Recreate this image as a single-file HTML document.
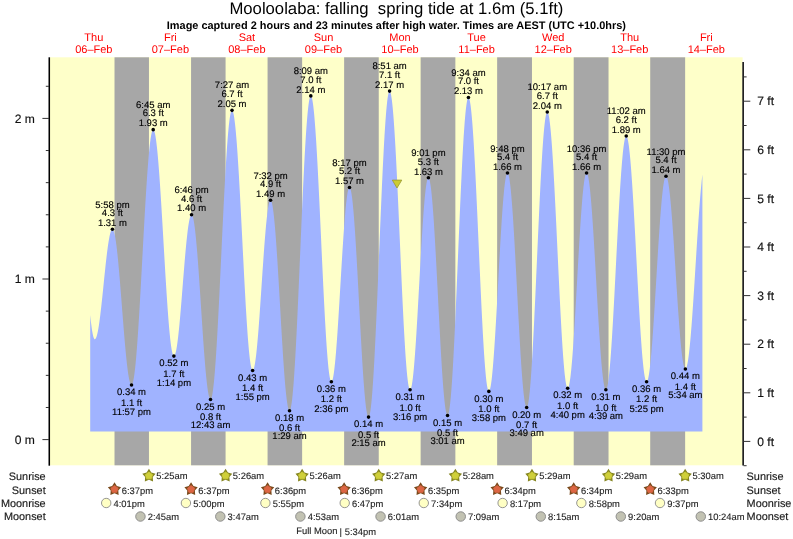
<!DOCTYPE html><html><head><meta charset="utf-8"><title>Mooloolaba tide</title>
<style>html,body{margin:0;padding:0;background:#fff;}svg{display:block;will-change:transform;font-family:"Liberation Sans",sans-serif;}text{white-space:pre;text-rendering:geometricPrecision;}</style></head><body>
<svg width="793" height="539" viewBox="0 0 793 539">
<rect width="793" height="539" fill="#fff"/>
<rect x="50" y="57.3" width="692.6" height="408.0" fill="#feffc9"/>
<rect x="114.51" y="57.3" width="34.45" height="408.0" fill="#a7a7a7"/>
<rect x="191.07" y="57.3" width="34.51" height="408.0" fill="#a7a7a7"/>
<rect x="267.57" y="57.3" width="34.56" height="408.0" fill="#a7a7a7"/>
<rect x="344.13" y="57.3" width="34.61" height="408.0" fill="#a7a7a7"/>
<rect x="420.64" y="57.3" width="34.72" height="408.0" fill="#a7a7a7"/>
<rect x="497.15" y="57.3" width="34.82" height="408.0" fill="#a7a7a7"/>
<rect x="573.71" y="57.3" width="34.82" height="408.0" fill="#a7a7a7"/>
<rect x="650.21" y="57.3" width="34.93" height="408.0" fill="#a7a7a7"/>
<path d="M90.20,431.5L90.20,314.93L90.64,319.17L91.07,323.05L91.51,326.54L91.95,329.64L92.39,332.32L92.82,334.57L93.26,336.39L93.70,337.77L94.14,338.69L94.57,339.16L95.01,339.19L95.45,338.86L95.88,338.21L96.32,337.22L96.76,335.92L97.20,334.30L97.63,332.38L98.07,330.16L98.51,327.67L98.95,324.91L99.38,321.90L99.82,318.67L100.26,315.23L100.69,311.60L101.13,307.80L101.57,303.86L102.01,299.80L102.44,295.65L102.88,291.43L103.32,287.16L103.76,282.87L104.19,278.60L104.63,274.36L105.07,270.17L105.50,266.08L105.94,262.09L106.38,258.24L106.82,254.54L107.25,251.03L107.69,247.71L108.13,244.62L108.57,241.77L109.00,239.17L109.44,236.85L109.88,234.82L110.32,233.09L110.75,231.66L111.19,230.56L111.63,229.78L112.06,229.33L112.50,229.22L112.94,229.48L113.38,230.15L113.81,231.21L114.25,232.67L114.69,234.51L115.13,236.73L115.56,239.32L116.00,242.25L116.44,245.52L116.87,249.11L117.31,253.00L117.75,257.17L118.19,261.60L118.62,266.26L119.06,271.14L119.50,276.20L119.94,281.42L120.37,286.77L120.81,292.23L121.25,297.77L121.68,303.36L122.12,308.96L122.56,314.56L123.00,320.11L123.43,325.60L123.87,330.99L124.31,336.26L124.75,341.38L125.18,346.32L125.62,351.06L126.06,355.57L126.49,359.83L126.93,363.82L127.37,367.51L127.81,370.89L128.24,373.94L128.68,376.64L129.12,378.99L129.56,380.96L129.99,382.55L130.43,383.75L130.87,384.55L131.30,384.95L131.74,384.93L132.18,384.42L132.62,383.39L133.05,381.86L133.49,379.83L133.93,377.31L134.37,374.31L134.80,370.84L135.24,366.91L135.68,362.55L136.12,357.76L136.55,352.57L136.99,347.00L137.43,341.06L137.86,334.80L138.30,328.22L138.74,321.36L139.18,314.24L139.61,306.89L140.05,299.34L140.49,291.63L140.93,283.78L141.36,275.82L141.80,267.79L142.24,259.71L142.67,251.63L143.11,243.57L143.55,235.56L143.99,227.64L144.42,219.84L144.86,212.19L145.30,204.73L145.74,197.47L146.17,190.45L146.61,183.70L147.05,177.25L147.48,171.11L147.92,165.33L148.36,159.91L148.80,154.88L149.23,150.26L149.67,146.07L150.11,142.33L150.55,139.05L150.98,136.24L151.42,133.92L151.86,132.09L152.29,130.77L152.73,129.95L153.17,129.64L153.61,129.84L154.04,130.54L154.48,131.74L154.92,133.42L155.36,135.59L155.79,138.23L156.23,141.33L156.67,144.88L157.10,148.86L157.54,153.26L157.98,158.05L158.42,163.21L158.85,168.73L159.29,174.57L159.73,180.72L160.17,187.14L160.60,193.80L161.04,200.68L161.48,207.75L161.91,214.97L162.35,222.32L162.79,229.75L163.23,237.25L163.66,244.77L164.10,252.28L164.54,259.75L164.98,267.14L165.41,274.43L165.85,281.57L166.29,288.55L166.72,295.33L167.16,301.87L167.60,308.15L168.04,314.15L168.47,319.83L168.91,325.17L169.35,330.15L169.79,334.75L170.22,338.94L170.66,342.70L171.10,346.03L171.54,348.90L171.97,351.30L172.41,353.22L172.85,354.66L173.28,355.60L173.72,356.05L174.16,356.01L174.60,355.54L175.03,354.64L175.47,353.32L175.91,351.60L176.35,349.47L176.78,346.96L177.22,344.07L177.66,340.82L178.09,337.25L178.53,333.35L178.97,329.17L179.41,324.73L179.84,320.04L180.28,315.15L180.72,310.07L181.16,304.85L181.59,299.51L182.03,294.08L182.47,288.60L182.90,283.10L183.34,277.62L183.78,272.18L184.22,266.83L184.65,261.58L185.09,256.48L185.53,251.56L185.97,246.84L186.40,242.35L186.84,238.13L187.28,234.19L187.71,230.56L188.15,227.26L188.59,224.32L189.03,221.74L189.46,219.56L189.90,217.77L190.34,216.38L190.78,215.42L191.21,214.88L191.65,214.77L192.09,215.13L192.52,215.97L192.96,217.29L193.40,219.07L193.84,221.32L194.27,224.02L194.71,227.15L195.15,230.70L195.59,234.65L196.02,238.98L196.46,243.67L196.90,248.68L197.34,254.01L197.77,259.61L198.21,265.46L198.65,271.53L199.08,277.79L199.52,284.20L199.96,290.73L200.40,297.34L200.83,304.01L201.27,310.69L201.71,317.35L202.15,323.96L202.58,330.49L203.02,336.88L203.46,343.13L203.89,349.18L204.33,355.02L204.77,360.60L205.21,365.90L205.64,370.90L206.08,375.56L206.52,379.86L206.96,383.78L207.39,387.31L207.83,390.41L208.27,393.07L208.70,395.28L209.14,397.04L209.58,398.32L210.02,399.12L210.45,399.44L210.89,399.24L211.33,398.46L211.77,397.08L212.20,395.13L212.64,392.60L213.08,389.50L213.51,385.86L213.95,381.68L214.39,376.99L214.83,371.79L215.26,366.12L215.70,359.99L216.14,353.43L216.58,346.47L217.01,339.13L217.45,331.45L217.89,323.46L218.32,315.19L218.76,306.67L219.20,297.94L219.64,289.03L220.07,279.98L220.51,270.83L220.95,261.62L221.39,252.38L221.82,243.14L222.26,233.96L222.70,224.86L223.13,215.89L223.57,207.07L224.01,198.45L224.45,190.06L224.88,181.94L225.32,174.12L225.76,166.62L226.20,159.49L226.63,152.74L227.07,146.42L227.51,140.53L227.94,135.12L228.38,130.20L228.82,125.78L229.26,121.89L229.69,118.55L230.13,115.77L230.57,113.55L231.01,111.91L231.44,110.86L231.88,110.39L232.32,110.52L232.76,111.22L233.19,112.49L233.63,114.33L234.07,116.73L234.50,119.68L234.94,123.16L235.38,127.16L235.82,131.67L236.25,136.66L236.69,142.10L237.13,147.99L237.57,154.28L238.00,160.96L238.44,167.98L238.88,175.33L239.31,182.97L239.75,190.87L240.19,198.98L240.63,207.28L241.06,215.72L241.50,224.27L241.94,232.90L242.38,241.56L242.81,250.21L243.25,258.82L243.69,267.35L244.12,275.76L244.56,284.01L245.00,292.08L245.44,299.91L245.87,307.48L246.31,314.75L246.75,321.69L247.19,328.27L247.62,334.46L248.06,340.24L248.50,345.57L248.93,350.44L249.37,354.82L249.81,358.69L250.25,362.04L250.68,364.85L251.12,367.10L251.56,368.80L252.00,369.93L252.43,370.48L252.87,370.47L253.31,369.95L253.74,368.93L254.18,367.43L254.62,365.44L255.06,362.98L255.49,360.06L255.93,356.71L256.37,352.94L256.81,348.77L257.24,344.23L257.68,339.34L258.12,334.14L258.56,328.65L258.99,322.90L259.43,316.94L259.87,310.79L260.30,304.49L260.74,298.08L261.18,291.60L261.62,285.08L262.05,278.56L262.49,272.08L262.93,265.68L263.37,259.40L263.80,253.26L264.24,247.32L264.68,241.60L265.11,236.14L265.55,230.97L265.99,226.12L266.43,221.62L266.86,217.49L267.30,213.76L267.74,210.45L268.18,207.59L268.61,205.18L269.05,203.24L269.49,201.78L269.92,200.82L270.36,200.35L270.80,200.39L271.24,200.98L271.67,202.12L272.11,203.79L272.55,206.00L272.99,208.73L273.42,211.96L273.86,215.69L274.30,219.89L274.73,224.53L275.17,229.60L275.61,235.06L276.05,240.90L276.48,247.07L276.92,253.55L277.36,260.30L277.80,267.29L278.23,274.48L278.67,281.83L279.11,289.30L279.54,296.86L279.98,304.46L280.42,312.07L280.86,319.65L281.29,327.15L281.73,334.53L282.17,341.77L282.61,348.82L283.04,355.63L283.48,362.19L283.92,368.45L284.35,374.38L284.79,379.95L285.23,385.13L285.67,389.89L286.10,394.21L286.54,398.07L286.98,401.44L287.42,404.31L287.85,406.66L288.29,408.48L288.73,409.76L289.16,410.50L289.60,410.68L290.04,410.25L290.48,409.16L290.91,407.42L291.35,405.04L291.79,402.03L292.23,398.39L292.66,394.15L293.10,389.32L293.54,383.93L293.98,377.99L294.41,371.53L294.85,364.57L295.29,357.16L295.72,349.31L296.16,341.05L296.60,332.44L297.04,323.49L297.47,314.25L297.91,304.76L298.35,295.05L298.79,285.16L299.22,275.15L299.66,265.04L300.10,254.89L300.53,244.72L300.97,234.60L301.41,224.55L301.85,214.62L302.28,204.85L302.72,195.29L303.16,185.96L303.60,176.92L304.03,168.20L304.47,159.83L304.91,151.85L305.34,144.29L305.78,137.19L306.22,130.58L306.66,124.47L307.09,118.90L307.53,113.90L307.97,109.47L308.41,105.65L308.84,102.44L309.28,99.86L309.72,97.92L310.15,96.63L310.59,95.99L311.03,96.00L311.47,96.66L311.90,97.95L312.34,99.86L312.78,102.40L313.22,105.54L313.65,109.28L314.09,113.59L314.53,118.47L314.96,123.88L315.40,129.80L315.84,136.20L316.28,143.07L316.71,150.36L317.15,158.05L317.59,166.09L318.03,174.46L318.46,183.12L318.90,192.03L319.34,201.14L319.78,210.42L320.21,219.83L320.65,229.33L321.09,238.86L321.52,248.40L321.96,257.89L322.40,267.30L322.84,276.58L323.27,285.70L323.71,294.60L324.15,303.26L324.59,311.63L325.02,319.67L325.46,327.36L325.90,334.65L326.33,341.51L326.77,347.92L327.21,353.84L327.65,359.25L328.08,364.12L328.52,368.43L328.96,372.17L329.40,375.31L329.83,377.84L330.27,379.76L330.71,381.04L331.14,381.70L331.58,381.72L332.02,381.18L332.46,380.08L332.89,378.44L333.33,376.25L333.77,373.54L334.21,370.32L334.64,366.61L335.08,362.43L335.52,357.80L335.95,352.75L336.39,347.31L336.83,341.51L337.27,335.39L337.70,328.97L338.14,322.30L338.58,315.41L339.02,308.34L339.45,301.14L339.89,293.85L340.33,286.50L340.76,279.14L341.20,271.81L341.64,264.56L342.08,257.42L342.51,250.43L342.95,243.65L343.39,237.09L343.83,230.82L344.26,224.85L344.70,219.22L345.14,213.97L345.57,209.12L346.01,204.71L346.45,200.75L346.89,197.28L347.32,194.31L347.76,191.85L348.20,189.93L348.64,188.55L349.07,187.73L349.51,187.46L349.95,187.77L350.38,188.67L350.82,190.17L351.26,192.25L351.70,194.90L352.13,198.11L352.57,201.87L353.01,206.14L353.45,210.92L353.88,216.17L354.32,221.88L354.76,228.00L355.20,234.50L355.63,241.36L356.07,248.54L356.51,256.00L356.94,263.70L357.38,271.60L357.82,279.66L358.26,287.84L358.69,296.09L359.13,304.37L359.57,312.65L360.01,320.87L360.44,328.99L360.88,336.97L361.32,344.78L361.75,352.36L362.19,359.68L362.63,366.70L363.07,373.39L363.50,379.71L363.94,385.62L364.38,391.10L364.82,396.12L365.25,400.65L365.69,404.67L366.13,408.15L366.56,411.08L367.00,413.45L367.44,415.23L367.88,416.43L368.31,417.04L368.75,417.03L369.19,416.35L369.63,414.97L370.06,412.91L370.50,410.18L370.94,406.77L371.37,402.72L371.81,398.04L372.25,392.75L372.69,386.86L373.12,380.41L373.56,373.42L374.00,365.93L374.44,357.95L374.87,349.54L375.31,340.72L375.75,331.53L376.18,322.01L376.62,312.21L377.06,302.15L377.50,291.89L377.93,281.47L378.37,270.94L378.81,260.33L379.25,249.70L379.68,239.08L380.12,228.53L380.56,218.09L381.00,207.80L381.43,197.70L381.87,187.85L382.31,178.28L382.74,169.03L383.18,160.15L383.62,151.66L384.06,143.61L384.49,136.03L384.93,128.96L385.37,122.41L385.81,116.43L386.24,111.03L386.68,106.24L387.12,102.08L387.55,98.57L387.99,95.72L388.43,93.54L388.87,92.05L389.30,91.25L389.74,91.14L390.18,91.70L390.62,92.94L391.05,94.84L391.49,97.39L391.93,100.59L392.36,104.42L392.80,108.86L393.24,113.90L393.68,119.50L394.11,125.65L394.55,132.32L394.99,139.47L395.43,147.07L395.86,155.10L396.30,163.51L396.74,172.27L397.17,181.34L397.61,190.67L398.05,200.23L398.49,209.96L398.92,219.84L399.36,229.80L399.80,239.82L400.24,249.84L400.67,259.81L401.11,269.70L401.55,279.46L401.98,289.04L402.42,298.40L402.86,307.50L403.30,316.30L403.73,324.76L404.17,332.84L404.61,340.50L405.05,347.71L405.48,354.44L405.92,360.66L406.36,366.33L406.79,371.44L407.23,375.96L407.67,379.87L408.11,383.15L408.54,385.79L408.98,387.77L409.42,389.09L409.86,389.74L410.29,389.73L410.73,389.12L411.17,387.91L411.61,386.13L412.04,383.77L412.48,380.85L412.92,377.38L413.35,373.39L413.79,368.90L414.23,363.93L414.67,358.52L415.10,352.68L415.54,346.46L415.98,339.88L416.42,332.99L416.85,325.83L417.29,318.43L417.73,310.84L418.16,303.09L418.60,295.24L419.04,287.32L419.48,279.39L419.91,271.47L420.35,263.63L420.79,255.90L421.23,248.33L421.66,240.95L422.10,233.82L422.54,226.97L422.97,220.43L423.41,214.25L423.85,208.46L424.29,203.10L424.72,198.18L425.16,193.75L425.60,189.82L426.04,186.42L426.47,183.56L426.91,181.27L427.35,179.55L427.78,178.42L428.22,177.87L428.66,177.93L429.10,178.59L429.53,179.86L429.97,181.74L430.41,184.20L430.85,187.24L431.28,190.85L431.72,195.00L432.16,199.68L432.59,204.86L433.03,210.50L433.47,216.60L433.91,223.10L434.34,229.98L434.78,237.21L435.22,244.74L435.66,252.54L436.09,260.57L436.53,268.78L436.97,277.14L437.40,285.60L437.84,294.11L438.28,302.64L438.72,311.13L439.15,319.56L439.59,327.86L440.03,336.00L440.47,343.95L440.90,351.64L441.34,359.06L441.78,366.15L442.21,372.89L442.65,379.23L443.09,385.15L443.53,390.61L443.96,395.59L444.40,400.06L444.84,403.99L445.28,407.38L445.71,410.19L446.15,412.42L446.59,414.05L447.03,415.08L447.46,415.50L447.90,415.28L448.34,414.38L448.77,412.79L449.21,410.53L449.65,407.61L450.09,404.03L450.52,399.81L450.96,394.98L451.40,389.54L451.84,383.54L452.27,376.98L452.71,369.90L453.15,362.33L453.58,354.31L454.02,345.86L454.46,337.03L454.90,327.84L455.33,318.35L455.77,308.60L456.21,298.61L456.65,288.45L457.08,278.15L457.52,267.75L457.96,257.31L458.39,246.86L458.83,236.45L459.27,226.14L459.71,215.95L460.14,205.93L460.58,196.14L461.02,186.61L461.46,177.38L461.89,168.49L462.33,159.98L462.77,151.89L463.20,144.25L463.64,137.09L464.08,130.46L464.52,124.36L464.95,118.84L465.39,113.91L465.83,109.60L466.27,105.92L466.70,102.90L467.14,100.54L467.58,98.85L468.01,97.84L468.45,97.52L468.89,97.88L469.33,98.89L469.76,100.57L470.20,102.90L470.64,105.87L471.08,109.47L471.51,113.67L471.95,118.47L472.39,123.84L472.83,129.76L473.26,136.19L473.70,143.12L474.14,150.50L474.57,158.31L475.01,166.51L475.45,175.06L475.89,183.93L476.32,193.07L476.76,202.44L477.20,212.00L477.64,221.71L478.07,231.53L478.51,241.40L478.95,251.28L479.38,261.14L479.82,270.92L480.26,280.58L480.70,290.07L481.13,299.36L481.57,308.40L482.01,317.15L482.45,325.58L482.88,333.63L483.32,341.29L483.76,348.50L484.19,355.24L484.63,361.48L485.07,367.20L485.51,372.35L485.94,376.93L486.38,380.91L486.82,384.27L487.26,387.00L487.69,389.08L488.13,390.51L488.57,391.28L489.00,391.38L489.44,390.88L489.88,389.79L490.32,388.11L490.75,385.85L491.19,383.03L491.63,379.66L492.07,375.75L492.50,371.34L492.94,366.44L493.38,361.09L493.81,355.30L494.25,349.12L494.69,342.57L495.13,335.69L495.56,328.52L496.00,321.10L496.44,313.47L496.88,305.67L497.31,297.74L497.75,289.72L498.19,281.66L498.62,273.61L499.06,265.60L499.50,257.69L499.94,249.91L500.37,242.30L500.81,234.91L501.25,227.78L501.69,220.94L502.12,214.44L502.56,208.31L503.00,202.58L503.44,197.29L503.87,192.45L504.31,188.11L504.75,184.28L505.18,180.98L505.62,178.23L506.06,176.05L506.50,174.45L506.93,173.44L507.37,173.02L507.81,173.19L508.25,173.97L508.68,175.34L509.12,177.29L509.56,179.83L509.99,182.93L510.43,186.58L510.87,190.77L511.31,195.46L511.74,200.63L512.18,206.27L512.62,212.34L513.06,218.80L513.49,225.63L513.93,232.79L514.37,240.25L514.80,247.96L515.24,255.89L515.68,263.99L516.12,272.23L516.55,280.56L516.99,288.94L517.43,297.33L517.87,305.68L518.30,313.95L518.74,322.10L519.18,330.09L519.61,337.87L520.05,345.41L520.49,352.67L520.93,359.61L521.36,366.19L521.80,372.38L522.24,378.15L522.68,383.47L523.11,388.32L523.55,392.66L523.99,396.48L524.42,399.75L524.86,402.47L525.30,404.60L525.74,406.16L526.17,407.12L526.61,407.48L527.05,407.22L527.49,406.30L527.92,404.73L528.36,402.53L528.80,399.69L529.23,396.22L529.67,392.16L530.11,387.50L530.55,382.28L530.98,376.52L531.42,370.24L531.86,363.47L532.30,356.23L532.73,348.58L533.17,340.52L533.61,332.11L534.04,323.38L534.48,314.37L534.92,305.11L535.36,295.65L535.79,286.03L536.23,276.30L536.67,266.49L537.11,256.66L537.54,246.83L537.98,237.07L538.42,227.40L538.86,217.88L539.29,208.54L539.73,199.43L540.17,190.59L540.60,182.05L541.04,173.86L541.48,166.05L541.92,158.65L542.35,151.71L542.79,145.24L543.23,139.28L543.67,133.85L544.10,128.98L544.54,124.69L544.98,121.00L545.41,117.92L545.85,115.48L546.29,113.67L546.73,112.51L547.16,112.00L547.60,112.14L548.04,112.91L548.48,114.30L548.91,116.31L549.35,118.93L549.79,122.15L550.22,125.95L550.66,130.31L551.10,135.22L551.54,140.65L551.97,146.58L552.41,152.98L552.85,159.82L553.29,167.07L553.72,174.70L554.16,182.68L554.60,190.96L555.03,199.51L555.47,208.28L555.91,217.25L556.35,226.37L556.78,235.60L557.22,244.89L557.66,254.21L558.10,263.51L558.53,272.74L558.97,281.87L559.41,290.86L559.84,299.67L560.28,308.24L560.72,316.56L561.16,324.57L561.59,332.24L562.03,339.54L562.47,346.43L562.91,352.88L563.34,358.87L563.78,364.36L564.22,369.33L564.65,373.76L565.09,377.62L565.53,380.91L565.97,383.60L566.40,385.68L566.84,387.14L567.28,387.99L567.72,388.20L568.15,387.83L568.59,386.89L569.03,385.39L569.47,383.34L569.90,380.75L570.34,377.64L570.78,374.01L571.21,369.89L571.65,365.30L572.09,360.26L572.53,354.80L572.96,348.96L573.40,342.75L573.84,336.22L574.28,329.39L574.71,322.31L575.15,315.01L575.59,307.52L576.02,299.90L576.46,292.17L576.90,284.38L577.34,276.57L577.77,268.78L578.21,261.06L578.65,253.44L579.09,245.96L579.52,238.66L579.96,231.59L580.40,224.77L580.83,218.25L581.27,212.05L581.71,206.22L582.15,200.78L582.58,195.75L583.02,191.18L583.46,187.08L583.90,183.46L584.33,180.36L584.77,177.79L585.21,175.76L585.64,174.28L586.08,173.36L586.52,173.01L586.96,173.21L587.39,173.97L587.83,175.27L588.27,177.10L588.71,179.47L589.14,182.35L589.58,185.73L590.02,189.59L590.45,193.93L590.89,198.70L591.33,203.89L591.77,209.48L592.20,215.43L592.64,221.71L593.08,228.30L593.52,235.16L593.95,242.25L594.39,249.54L594.83,256.99L595.26,264.56L595.70,272.22L596.14,279.92L596.58,287.64L597.01,295.32L597.45,302.93L597.89,310.43L598.33,317.79L598.76,324.96L599.20,331.91L599.64,338.60L600.08,345.01L600.51,351.09L600.95,356.82L601.39,362.17L601.82,367.11L602.26,371.61L602.70,375.66L603.14,379.23L603.57,382.30L604.01,384.87L604.45,386.91L604.89,388.41L605.32,389.38L605.76,389.80L606.20,389.66L606.63,388.94L607.07,387.65L607.51,385.80L607.95,383.38L608.38,380.42L608.82,376.92L609.26,372.91L609.70,368.39L610.13,363.39L610.57,357.94L611.01,352.06L611.44,345.76L611.88,339.10L612.32,332.08L612.76,324.75L613.19,317.14L613.63,309.29L614.07,301.22L614.51,292.98L614.94,284.60L615.38,276.12L615.82,267.59L616.25,259.03L616.69,250.49L617.13,242.01L617.57,233.62L618.00,225.36L618.44,217.28L618.88,209.40L619.32,201.77L619.75,194.42L620.19,187.37L620.63,180.68L621.06,174.35L621.50,168.43L621.94,162.94L622.38,157.90L622.81,153.34L623.25,149.28L623.69,145.74L624.13,142.73L624.56,140.27L625.00,138.37L625.44,137.03L625.87,136.26L626.31,136.07L626.75,136.45L627.19,137.38L627.62,138.87L628.06,140.90L628.50,143.47L628.94,146.57L629.37,150.18L629.81,154.28L630.25,158.85L630.69,163.89L631.12,169.35L631.56,175.22L632.00,181.48L632.43,188.08L632.87,195.01L633.31,202.23L633.75,209.71L634.18,217.41L634.62,225.30L635.06,233.34L635.50,241.50L635.93,249.74L636.37,258.02L636.81,266.30L637.24,274.55L637.68,282.73L638.12,290.80L638.56,298.73L638.99,306.47L639.43,314.00L639.87,321.28L640.31,328.28L640.74,334.95L641.18,341.29L641.62,347.25L642.05,352.80L642.49,357.93L642.93,362.61L643.37,366.82L643.80,370.53L644.24,373.74L644.68,376.43L645.12,378.58L645.55,380.19L645.99,381.24L646.43,381.74L646.86,381.69L647.30,381.12L647.74,380.04L648.18,378.45L648.61,376.37L649.05,373.79L649.49,370.74L649.93,367.24L650.36,363.29L650.80,358.91L651.24,354.14L651.67,348.99L652.11,343.49L652.55,337.67L652.99,331.56L653.42,325.18L653.86,318.57L654.30,311.76L654.74,304.78L655.17,297.68L655.61,290.48L656.05,283.23L656.49,275.96L656.92,268.70L657.36,261.49L657.80,254.37L658.23,247.37L658.67,240.53L659.11,233.89L659.55,227.47L659.98,221.31L660.42,215.44L660.86,209.88L661.30,204.67L661.73,199.84L662.17,195.40L662.61,191.38L663.04,187.80L663.48,184.67L663.92,182.02L664.36,179.86L664.79,178.19L665.23,177.02L665.67,176.37L666.11,176.23L666.54,176.58L666.98,177.42L667.42,178.74L667.85,180.53L668.29,182.78L668.73,185.48L669.17,188.63L669.60,192.20L670.04,196.17L670.48,200.52L670.92,205.24L671.35,210.30L671.79,215.67L672.23,221.33L672.66,227.25L673.10,233.40L673.54,239.74L673.98,246.25L674.41,252.89L674.85,259.63L675.29,266.43L675.73,273.27L676.16,280.10L676.60,286.90L677.04,293.62L677.47,300.23L677.91,306.71L678.35,313.02L678.79,319.12L679.22,324.99L679.66,330.59L680.10,335.90L680.54,340.89L680.97,345.54L681.41,349.82L681.85,353.71L682.28,357.19L682.72,360.25L683.16,362.87L683.60,365.03L684.03,366.72L684.47,367.94L684.91,368.68L685.35,368.94L685.78,368.71L686.22,368.03L686.66,366.88L687.10,365.27L687.53,363.21L687.97,360.70L688.41,357.77L688.84,354.42L689.28,350.66L689.72,346.52L690.16,342.02L690.59,337.16L691.03,331.99L691.47,326.50L691.91,320.75L692.34,314.74L692.78,308.50L693.22,302.07L693.65,295.47L694.09,288.73L694.53,281.88L694.97,274.96L695.40,267.99L695.84,261.00L696.28,254.03L696.72,247.11L697.15,240.26L697.59,233.52L698.03,226.93L698.46,220.50L698.90,214.27L699.34,208.26L699.78,202.50L700.21,197.03L700.65,191.85L701.09,187.00L701.53,182.50L701.96,178.37L702.40,174.62L702.40,431.5Z" fill="#a0b3ff"/>
<rect x="48.5" y="57.3" width="1.55" height="408.4" fill="#000"/>
<rect x="742.3" y="62" width="1.7" height="403.5" fill="#222"/>
<rect x="42.4" y="439.10" width="6.6" height="1" fill="#333"/>
<text x="34.8" y="443.80" font-size="12.1" text-anchor="end" fill="#111" stroke="#111" stroke-width="0.15">0 m</text>
<rect x="45.8" y="406.98" width="3.2" height="1" fill="#333"/>
<rect x="45.8" y="374.86" width="3.2" height="1" fill="#333"/>
<rect x="45.8" y="342.74" width="3.2" height="1" fill="#333"/>
<rect x="45.8" y="310.62" width="3.2" height="1" fill="#333"/>
<rect x="42.4" y="278.50" width="6.6" height="1" fill="#333"/>
<text x="34.8" y="283.20" font-size="12.1" text-anchor="end" fill="#111" stroke="#111" stroke-width="0.15">1 m</text>
<rect x="45.8" y="246.38" width="3.2" height="1" fill="#333"/>
<rect x="45.8" y="214.26" width="3.2" height="1" fill="#333"/>
<rect x="45.8" y="182.14" width="3.2" height="1" fill="#333"/>
<rect x="45.8" y="150.02" width="3.2" height="1" fill="#333"/>
<rect x="42.4" y="117.90" width="6.6" height="1" fill="#333"/>
<text x="34.8" y="122.60" font-size="12.1" text-anchor="end" fill="#111" stroke="#111" stroke-width="0.15">2 m</text>
<rect x="45.8" y="85.78" width="3.2" height="1" fill="#333"/>
<rect x="743.5" y="465.20" width="3.1" height="1" fill="#333"/>
<rect x="743.5" y="440.90" width="6.8" height="1" fill="#333"/>
<text x="757.2" y="445.60" font-size="12.1" fill="#111" stroke="#111" stroke-width="0.15">0 ft</text>
<rect x="743.5" y="416.60" width="3.1" height="1" fill="#333"/>
<rect x="743.5" y="392.30" width="6.8" height="1" fill="#333"/>
<text x="757.2" y="397.00" font-size="12.1" fill="#111" stroke="#111" stroke-width="0.15">1 ft</text>
<rect x="743.5" y="368.00" width="3.1" height="1" fill="#333"/>
<rect x="743.5" y="343.70" width="6.8" height="1" fill="#333"/>
<text x="757.2" y="348.40" font-size="12.1" fill="#111" stroke="#111" stroke-width="0.15">2 ft</text>
<rect x="743.5" y="319.40" width="3.1" height="1" fill="#333"/>
<rect x="743.5" y="295.10" width="6.8" height="1" fill="#333"/>
<text x="757.2" y="299.80" font-size="12.1" fill="#111" stroke="#111" stroke-width="0.15">3 ft</text>
<rect x="743.5" y="270.80" width="3.1" height="1" fill="#333"/>
<rect x="743.5" y="246.50" width="6.8" height="1" fill="#333"/>
<text x="757.2" y="251.20" font-size="12.1" fill="#111" stroke="#111" stroke-width="0.15">4 ft</text>
<rect x="743.5" y="222.20" width="3.1" height="1" fill="#333"/>
<rect x="743.5" y="197.90" width="6.8" height="1" fill="#333"/>
<text x="757.2" y="202.60" font-size="12.1" fill="#111" stroke="#111" stroke-width="0.15">5 ft</text>
<rect x="743.5" y="173.60" width="3.1" height="1" fill="#333"/>
<rect x="743.5" y="149.30" width="6.8" height="1" fill="#333"/>
<text x="757.2" y="154.00" font-size="12.1" fill="#111" stroke="#111" stroke-width="0.15">6 ft</text>
<rect x="743.5" y="125.00" width="3.1" height="1" fill="#333"/>
<rect x="743.5" y="100.70" width="6.8" height="1" fill="#333"/>
<text x="757.2" y="105.40" font-size="12.1" fill="#111" stroke="#111" stroke-width="0.15">7 ft</text>
<rect x="743.5" y="76.40" width="3.1" height="1" fill="#333"/>
<text x="396.4" y="14.3" font-size="16.7" text-anchor="middle" fill="#000">Mooloolaba: falling  spring tide at 1.6m (5.1ft)</text>
<text x="396.4" y="28.5" font-size="10.95" font-weight="bold" text-anchor="middle" fill="#000">Image captured 2 hours and 23 minutes after high water. Times are AEST (UTC +10.0hrs)</text>
<text x="93.8" y="41" font-size="11" text-anchor="middle" fill="#f00">Thu</text>
<text x="93.8" y="52.6" font-size="11" text-anchor="middle" fill="#f00">06–Feb</text>
<text x="170.4" y="41" font-size="11" text-anchor="middle" fill="#f00">Fri</text>
<text x="170.4" y="52.6" font-size="11" text-anchor="middle" fill="#f00">07–Feb</text>
<text x="246.9" y="41" font-size="11" text-anchor="middle" fill="#f00">Sat</text>
<text x="246.9" y="52.6" font-size="11" text-anchor="middle" fill="#f00">08–Feb</text>
<text x="323.5" y="41" font-size="11" text-anchor="middle" fill="#f00">Sun</text>
<text x="323.5" y="52.6" font-size="11" text-anchor="middle" fill="#f00">09–Feb</text>
<text x="400.0" y="41" font-size="11" text-anchor="middle" fill="#f00">Mon</text>
<text x="400.0" y="52.6" font-size="11" text-anchor="middle" fill="#f00">10–Feb</text>
<text x="476.6" y="41" font-size="11" text-anchor="middle" fill="#f00">Tue</text>
<text x="476.6" y="52.6" font-size="11" text-anchor="middle" fill="#f00">11–Feb</text>
<text x="553.2" y="41" font-size="11" text-anchor="middle" fill="#f00">Wed</text>
<text x="553.2" y="52.6" font-size="11" text-anchor="middle" fill="#f00">12–Feb</text>
<text x="629.7" y="41" font-size="11" text-anchor="middle" fill="#f00">Thu</text>
<text x="629.7" y="52.6" font-size="11" text-anchor="middle" fill="#f00">13–Feb</text>
<text x="706.3" y="41" font-size="11" text-anchor="middle" fill="#f00">Fri</text>
<text x="706.3" y="52.6" font-size="11" text-anchor="middle" fill="#f00">14–Feb</text>
<circle cx="112.43" cy="229.21" r="1.8" fill="#000"/>
<text x="112.43" y="207.81" font-size="9.5" text-anchor="middle" fill="#000" stroke="#000" stroke-width="0.14">5:58 pm</text>
<text x="112.43" y="216.01" font-size="9.5" text-anchor="middle" fill="#000" stroke="#000" stroke-width="0.14">4.3 ft</text>
<text x="112.43" y="225.91" font-size="9.5" text-anchor="middle" fill="#000" stroke="#000" stroke-width="0.14">1.31 m</text>
<circle cx="131.52" cy="385.00" r="1.8" fill="#000"/>
<text x="131.52" y="395.20" font-size="9.5" text-anchor="middle" fill="#000" stroke="#000" stroke-width="0.14">0.34 m</text>
<text x="131.52" y="405.70" font-size="9.5" text-anchor="middle" fill="#000" stroke="#000" stroke-width="0.14">1.1 ft</text>
<text x="131.52" y="414.90" font-size="9.5" text-anchor="middle" fill="#000" stroke="#000" stroke-width="0.14">11:57 pm</text>
<circle cx="153.21" cy="129.64" r="1.8" fill="#000"/>
<text x="153.21" y="107.74" font-size="9.5" text-anchor="middle" fill="#000" stroke="#000" stroke-width="0.14">6:45 am</text>
<text x="153.21" y="116.44" font-size="9.5" text-anchor="middle" fill="#000" stroke="#000" stroke-width="0.14">6.3 ft</text>
<text x="153.21" y="126.34" font-size="9.5" text-anchor="middle" fill="#000" stroke="#000" stroke-width="0.14">1.93 m</text>
<circle cx="173.89" cy="356.09" r="1.8" fill="#000"/>
<text x="173.89" y="366.29" font-size="9.5" text-anchor="middle" fill="#000" stroke="#000" stroke-width="0.14">0.52 m</text>
<text x="173.89" y="376.79" font-size="9.5" text-anchor="middle" fill="#000" stroke="#000" stroke-width="0.14">1.7 ft</text>
<text x="173.89" y="385.99" font-size="9.5" text-anchor="middle" fill="#000" stroke="#000" stroke-width="0.14">1:14 pm</text>
<circle cx="191.55" cy="214.76" r="1.8" fill="#000"/>
<text x="191.55" y="193.36" font-size="9.5" text-anchor="middle" fill="#000" stroke="#000" stroke-width="0.14">6:46 pm</text>
<text x="191.55" y="201.56" font-size="9.5" text-anchor="middle" fill="#000" stroke="#000" stroke-width="0.14">4.6 ft</text>
<text x="191.55" y="211.46" font-size="9.5" text-anchor="middle" fill="#000" stroke="#000" stroke-width="0.14">1.40 m</text>
<circle cx="210.53" cy="399.45" r="1.8" fill="#000"/>
<text x="210.53" y="409.65" font-size="9.5" text-anchor="middle" fill="#000" stroke="#000" stroke-width="0.14">0.25 m</text>
<text x="210.53" y="420.15" font-size="9.5" text-anchor="middle" fill="#000" stroke="#000" stroke-width="0.14">0.8 ft</text>
<text x="210.53" y="428.25" font-size="9.5" text-anchor="middle" fill="#000" stroke="#000" stroke-width="0.14">12:43 am</text>
<circle cx="232.01" cy="110.37" r="1.8" fill="#000"/>
<text x="232.01" y="88.47" font-size="9.5" text-anchor="middle" fill="#000" stroke="#000" stroke-width="0.14">7:27 am</text>
<text x="232.01" y="97.17" font-size="9.5" text-anchor="middle" fill="#000" stroke="#000" stroke-width="0.14">6.7 ft</text>
<text x="232.01" y="107.07" font-size="9.5" text-anchor="middle" fill="#000" stroke="#000" stroke-width="0.14">2.05 m</text>
<circle cx="252.63" cy="370.54" r="1.8" fill="#000"/>
<text x="252.63" y="380.74" font-size="9.5" text-anchor="middle" fill="#000" stroke="#000" stroke-width="0.14">0.43 m</text>
<text x="252.63" y="391.24" font-size="9.5" text-anchor="middle" fill="#000" stroke="#000" stroke-width="0.14">1.4 ft</text>
<text x="252.63" y="400.44" font-size="9.5" text-anchor="middle" fill="#000" stroke="#000" stroke-width="0.14">1:55 pm</text>
<circle cx="270.55" cy="200.31" r="1.8" fill="#000"/>
<text x="270.55" y="178.91" font-size="9.5" text-anchor="middle" fill="#000" stroke="#000" stroke-width="0.14">7:32 pm</text>
<text x="270.55" y="187.11" font-size="9.5" text-anchor="middle" fill="#000" stroke="#000" stroke-width="0.14">4.9 ft</text>
<text x="270.55" y="197.01" font-size="9.5" text-anchor="middle" fill="#000" stroke="#000" stroke-width="0.14">1.49 m</text>
<circle cx="289.53" cy="410.69" r="1.8" fill="#000"/>
<text x="289.53" y="420.89" font-size="9.5" text-anchor="middle" fill="#000" stroke="#000" stroke-width="0.14">0.18 m</text>
<text x="289.53" y="431.39" font-size="9.5" text-anchor="middle" fill="#000" stroke="#000" stroke-width="0.14">0.6 ft</text>
<text x="289.53" y="439.49" font-size="9.5" text-anchor="middle" fill="#000" stroke="#000" stroke-width="0.14">1:29 am</text>
<circle cx="310.80" cy="95.92" r="1.8" fill="#000"/>
<text x="310.80" y="74.02" font-size="9.5" text-anchor="middle" fill="#000" stroke="#000" stroke-width="0.14">8:09 am</text>
<text x="310.80" y="82.72" font-size="9.5" text-anchor="middle" fill="#000" stroke="#000" stroke-width="0.14">7.0 ft</text>
<text x="310.80" y="92.62" font-size="9.5" text-anchor="middle" fill="#000" stroke="#000" stroke-width="0.14">2.14 m</text>
<circle cx="331.37" cy="381.78" r="1.8" fill="#000"/>
<text x="331.37" y="391.98" font-size="9.5" text-anchor="middle" fill="#000" stroke="#000" stroke-width="0.14">0.36 m</text>
<text x="331.37" y="402.48" font-size="9.5" text-anchor="middle" fill="#000" stroke="#000" stroke-width="0.14">1.2 ft</text>
<text x="331.37" y="411.68" font-size="9.5" text-anchor="middle" fill="#000" stroke="#000" stroke-width="0.14">2:36 pm</text>
<circle cx="349.50" cy="187.46" r="1.8" fill="#000"/>
<text x="349.50" y="166.06" font-size="9.5" text-anchor="middle" fill="#000" stroke="#000" stroke-width="0.14">8:17 pm</text>
<text x="349.50" y="174.26" font-size="9.5" text-anchor="middle" fill="#000" stroke="#000" stroke-width="0.14">5.2 ft</text>
<text x="349.50" y="184.16" font-size="9.5" text-anchor="middle" fill="#000" stroke="#000" stroke-width="0.14">1.57 m</text>
<circle cx="368.54" cy="417.12" r="1.8" fill="#000"/>
<text x="368.54" y="427.32" font-size="9.5" text-anchor="middle" fill="#000" stroke="#000" stroke-width="0.14">0.14 m</text>
<text x="368.54" y="437.82" font-size="9.5" text-anchor="middle" fill="#000" stroke="#000" stroke-width="0.14">0.5 ft</text>
<text x="368.54" y="445.92" font-size="9.5" text-anchor="middle" fill="#000" stroke="#000" stroke-width="0.14">2:15 am</text>
<circle cx="389.59" cy="91.10" r="1.8" fill="#000"/>
<text x="389.59" y="69.20" font-size="9.5" text-anchor="middle" fill="#000" stroke="#000" stroke-width="0.14">8:51 am</text>
<text x="389.59" y="77.90" font-size="9.5" text-anchor="middle" fill="#000" stroke="#000" stroke-width="0.14">7.1 ft</text>
<text x="389.59" y="87.80" font-size="9.5" text-anchor="middle" fill="#000" stroke="#000" stroke-width="0.14">2.17 m</text>
<circle cx="410.06" cy="389.81" r="1.8" fill="#000"/>
<text x="410.06" y="400.01" font-size="9.5" text-anchor="middle" fill="#000" stroke="#000" stroke-width="0.14">0.31 m</text>
<text x="410.06" y="410.51" font-size="9.5" text-anchor="middle" fill="#000" stroke="#000" stroke-width="0.14">1.0 ft</text>
<text x="410.06" y="419.71" font-size="9.5" text-anchor="middle" fill="#000" stroke="#000" stroke-width="0.14">3:16 pm</text>
<circle cx="428.40" cy="177.82" r="1.8" fill="#000"/>
<text x="428.40" y="156.42" font-size="9.5" text-anchor="middle" fill="#000" stroke="#000" stroke-width="0.14">9:01 pm</text>
<text x="428.40" y="164.62" font-size="9.5" text-anchor="middle" fill="#000" stroke="#000" stroke-width="0.14">5.3 ft</text>
<text x="428.40" y="174.52" font-size="9.5" text-anchor="middle" fill="#000" stroke="#000" stroke-width="0.14">1.63 m</text>
<circle cx="447.54" cy="415.51" r="1.8" fill="#000"/>
<text x="447.54" y="425.71" font-size="9.5" text-anchor="middle" fill="#000" stroke="#000" stroke-width="0.14">0.15 m</text>
<text x="447.54" y="436.21" font-size="9.5" text-anchor="middle" fill="#000" stroke="#000" stroke-width="0.14">0.5 ft</text>
<text x="447.54" y="444.31" font-size="9.5" text-anchor="middle" fill="#000" stroke="#000" stroke-width="0.14">3:01 am</text>
<circle cx="468.44" cy="97.52" r="1.8" fill="#000"/>
<text x="468.44" y="75.62" font-size="9.5" text-anchor="middle" fill="#000" stroke="#000" stroke-width="0.14">9:34 am</text>
<text x="468.44" y="84.32" font-size="9.5" text-anchor="middle" fill="#000" stroke="#000" stroke-width="0.14">7.0 ft</text>
<text x="468.44" y="94.22" font-size="9.5" text-anchor="middle" fill="#000" stroke="#000" stroke-width="0.14">2.13 m</text>
<circle cx="488.85" cy="391.42" r="1.8" fill="#000"/>
<text x="488.85" y="401.62" font-size="9.5" text-anchor="middle" fill="#000" stroke="#000" stroke-width="0.14">0.30 m</text>
<text x="488.85" y="412.12" font-size="9.5" text-anchor="middle" fill="#000" stroke="#000" stroke-width="0.14">1.0 ft</text>
<text x="488.85" y="421.32" font-size="9.5" text-anchor="middle" fill="#000" stroke="#000" stroke-width="0.14">3:58 pm</text>
<circle cx="507.46" cy="173.00" r="1.8" fill="#000"/>
<text x="507.46" y="151.60" font-size="9.5" text-anchor="middle" fill="#000" stroke="#000" stroke-width="0.14">9:48 pm</text>
<text x="507.46" y="159.80" font-size="9.5" text-anchor="middle" fill="#000" stroke="#000" stroke-width="0.14">5.4 ft</text>
<text x="507.46" y="169.70" font-size="9.5" text-anchor="middle" fill="#000" stroke="#000" stroke-width="0.14">1.66 m</text>
<circle cx="526.66" cy="407.48" r="1.8" fill="#000"/>
<text x="526.66" y="417.68" font-size="9.5" text-anchor="middle" fill="#000" stroke="#000" stroke-width="0.14">0.20 m</text>
<text x="526.66" y="428.18" font-size="9.5" text-anchor="middle" fill="#000" stroke="#000" stroke-width="0.14">0.7 ft</text>
<text x="526.66" y="436.28" font-size="9.5" text-anchor="middle" fill="#000" stroke="#000" stroke-width="0.14">3:49 am</text>
<circle cx="547.28" cy="111.98" r="1.8" fill="#000"/>
<text x="547.28" y="90.08" font-size="9.5" text-anchor="middle" fill="#000" stroke="#000" stroke-width="0.14">10:17 am</text>
<text x="547.28" y="98.78" font-size="9.5" text-anchor="middle" fill="#000" stroke="#000" stroke-width="0.14">6.7 ft</text>
<text x="547.28" y="108.68" font-size="9.5" text-anchor="middle" fill="#000" stroke="#000" stroke-width="0.14">2.04 m</text>
<circle cx="567.65" cy="388.21" r="1.8" fill="#000"/>
<text x="567.65" y="398.41" font-size="9.5" text-anchor="middle" fill="#000" stroke="#000" stroke-width="0.14">0.32 m</text>
<text x="567.65" y="408.91" font-size="9.5" text-anchor="middle" fill="#000" stroke="#000" stroke-width="0.14">1.0 ft</text>
<text x="567.65" y="418.11" font-size="9.5" text-anchor="middle" fill="#000" stroke="#000" stroke-width="0.14">4:40 pm</text>
<circle cx="586.57" cy="173.00" r="1.8" fill="#000"/>
<text x="586.57" y="151.60" font-size="9.5" text-anchor="middle" fill="#000" stroke="#000" stroke-width="0.14">10:36 pm</text>
<text x="586.57" y="159.80" font-size="9.5" text-anchor="middle" fill="#000" stroke="#000" stroke-width="0.14">5.4 ft</text>
<text x="586.57" y="169.70" font-size="9.5" text-anchor="middle" fill="#000" stroke="#000" stroke-width="0.14">1.66 m</text>
<circle cx="605.87" cy="389.81" r="1.8" fill="#000"/>
<text x="605.87" y="400.01" font-size="9.5" text-anchor="middle" fill="#000" stroke="#000" stroke-width="0.14">0.31 m</text>
<text x="605.87" y="410.51" font-size="9.5" text-anchor="middle" fill="#000" stroke="#000" stroke-width="0.14">1.0 ft</text>
<text x="605.87" y="418.61" font-size="9.5" text-anchor="middle" fill="#000" stroke="#000" stroke-width="0.14">4:39 am</text>
<circle cx="626.24" cy="136.07" r="1.8" fill="#000"/>
<text x="626.24" y="114.17" font-size="9.5" text-anchor="middle" fill="#000" stroke="#000" stroke-width="0.14">11:02 am</text>
<text x="626.24" y="122.87" font-size="9.5" text-anchor="middle" fill="#000" stroke="#000" stroke-width="0.14">6.2 ft</text>
<text x="626.24" y="132.77" font-size="9.5" text-anchor="middle" fill="#000" stroke="#000" stroke-width="0.14">1.89 m</text>
<circle cx="646.60" cy="381.78" r="1.8" fill="#000"/>
<text x="646.60" y="391.98" font-size="9.5" text-anchor="middle" fill="#000" stroke="#000" stroke-width="0.14">0.36 m</text>
<text x="646.60" y="402.48" font-size="9.5" text-anchor="middle" fill="#000" stroke="#000" stroke-width="0.14">1.2 ft</text>
<text x="646.60" y="411.68" font-size="9.5" text-anchor="middle" fill="#000" stroke="#000" stroke-width="0.14">5:25 pm</text>
<circle cx="666.00" cy="176.22" r="1.8" fill="#000"/>
<text x="666.00" y="154.82" font-size="9.5" text-anchor="middle" fill="#000" stroke="#000" stroke-width="0.14">11:30 pm</text>
<text x="666.00" y="163.02" font-size="9.5" text-anchor="middle" fill="#000" stroke="#000" stroke-width="0.14">5.4 ft</text>
<text x="666.00" y="172.92" font-size="9.5" text-anchor="middle" fill="#000" stroke="#000" stroke-width="0.14">1.64 m</text>
<circle cx="685.36" cy="368.94" r="1.8" fill="#000"/>
<text x="685.36" y="379.14" font-size="9.5" text-anchor="middle" fill="#000" stroke="#000" stroke-width="0.14">0.44 m</text>
<text x="685.36" y="389.64" font-size="9.5" text-anchor="middle" fill="#000" stroke="#000" stroke-width="0.14">1.4 ft</text>
<text x="685.36" y="397.74" font-size="9.5" text-anchor="middle" fill="#000" stroke="#000" stroke-width="0.14">5:34 am</text>
<path d="M392.3,180.1 L401.8,180.1 L397,188 Z" fill="#cccc33" stroke="#999933" stroke-width="0.8"/>
<text x="45.7" y="480.0" font-size="10.9" text-anchor="end" fill="#1a1a1a" stroke="#1a1a1a" stroke-width="0.15">Sunrise</text>
<text x="746.6" y="480.0" font-size="10.9" fill="#1a1a1a" stroke="#1a1a1a" stroke-width="0.15">Sunrise</text>
<text x="45.7" y="493.7" font-size="10.9" text-anchor="end" fill="#1a1a1a" stroke="#1a1a1a" stroke-width="0.15">Sunset</text>
<text x="746.6" y="493.7" font-size="10.9" fill="#1a1a1a" stroke="#1a1a1a" stroke-width="0.15">Sunset</text>
<text x="45.7" y="506.9" font-size="10.9" text-anchor="end" fill="#1a1a1a" stroke="#1a1a1a" stroke-width="0.15">Moonrise</text>
<text x="746.6" y="506.9" font-size="10.9" fill="#1a1a1a" stroke="#1a1a1a" stroke-width="0.15">Moonrise</text>
<text x="45.7" y="520.1" font-size="10.9" text-anchor="end" fill="#1a1a1a" stroke="#1a1a1a" stroke-width="0.15">Moonset</text>
<text x="746.6" y="520.1" font-size="10.9" fill="#1a1a1a" stroke="#1a1a1a" stroke-width="0.15">Moonset</text>
<polygon points="148.96,468.80 151.31,472.56 155.62,473.64 152.76,477.04 153.07,481.46 148.96,479.80 144.84,481.46 145.15,477.04 142.30,473.64 146.61,472.56" fill="#858520"/><polygon points="148.96,472.05 152.53,474.64 151.16,478.83 146.75,478.83 145.39,474.64" fill="#cfcf3a" stroke="#cfcf3a" stroke-width="0.8" stroke-linejoin="round"/>
<text x="156.26" y="479.4" font-size="9.4" fill="#222" stroke="#222" stroke-width="0.12">5:25am</text>
<polygon points="225.57,468.80 227.92,472.56 232.23,473.64 229.38,477.04 229.69,481.46 225.57,479.80 221.46,481.46 221.77,477.04 218.91,473.64 223.22,472.56" fill="#858520"/><polygon points="225.57,472.05 229.14,474.64 227.78,478.83 223.37,478.83 222.01,474.64" fill="#cfcf3a" stroke="#cfcf3a" stroke-width="0.8" stroke-linejoin="round"/>
<text x="232.87" y="479.4" font-size="9.4" fill="#222" stroke="#222" stroke-width="0.12">5:26am</text>
<polygon points="302.13,468.80 304.48,472.56 308.79,473.64 305.94,477.04 306.25,481.46 302.13,479.80 298.02,481.46 298.33,477.04 295.47,473.64 299.78,472.56" fill="#858520"/><polygon points="302.13,472.05 305.70,474.64 304.34,478.83 299.93,478.83 298.57,474.64" fill="#cfcf3a" stroke="#cfcf3a" stroke-width="0.8" stroke-linejoin="round"/>
<text x="309.43" y="479.4" font-size="9.4" fill="#222" stroke="#222" stroke-width="0.12">5:26am</text>
<polygon points="378.75,468.80 381.10,472.56 385.40,473.64 382.55,477.04 382.86,481.46 378.75,479.80 374.63,481.46 374.94,477.04 372.09,473.64 376.39,472.56" fill="#858520"/><polygon points="378.75,472.05 382.31,474.64 380.95,478.83 376.54,478.83 375.18,474.64" fill="#cfcf3a" stroke="#cfcf3a" stroke-width="0.8" stroke-linejoin="round"/>
<text x="386.05" y="479.4" font-size="9.4" fill="#222" stroke="#222" stroke-width="0.12">5:27am</text>
<polygon points="455.36,468.80 457.71,472.56 462.02,473.64 459.16,477.04 459.47,481.46 455.36,479.80 451.24,481.46 451.55,477.04 448.70,473.64 453.01,472.56" fill="#858520"/><polygon points="455.36,472.05 458.93,474.64 457.56,478.83 453.15,478.83 451.79,474.64" fill="#cfcf3a" stroke="#cfcf3a" stroke-width="0.8" stroke-linejoin="round"/>
<text x="462.66" y="479.4" font-size="9.4" fill="#222" stroke="#222" stroke-width="0.12">5:28am</text>
<polygon points="531.97,468.80 534.32,472.56 538.63,473.64 535.78,477.04 536.09,481.46 531.97,479.80 527.86,481.46 528.17,477.04 525.31,473.64 529.62,472.56" fill="#858520"/><polygon points="531.97,472.05 535.54,474.64 534.18,478.83 529.77,478.83 528.41,474.64" fill="#cfcf3a" stroke="#cfcf3a" stroke-width="0.8" stroke-linejoin="round"/>
<text x="539.27" y="479.4" font-size="9.4" fill="#222" stroke="#222" stroke-width="0.12">5:29am</text>
<polygon points="608.53,468.80 610.88,472.56 615.19,473.64 612.34,477.04 612.65,481.46 608.53,479.80 604.42,481.46 604.73,477.04 601.87,473.64 606.18,472.56" fill="#858520"/><polygon points="608.53,472.05 612.10,474.64 610.74,478.83 606.33,478.83 604.97,474.64" fill="#cfcf3a" stroke="#cfcf3a" stroke-width="0.8" stroke-linejoin="round"/>
<text x="615.83" y="479.4" font-size="9.4" fill="#222" stroke="#222" stroke-width="0.12">5:29am</text>
<polygon points="685.14,468.80 687.50,472.56 691.80,473.64 688.95,477.04 689.26,481.46 685.14,479.80 681.03,481.46 681.34,477.04 678.49,473.64 682.79,472.56" fill="#858520"/><polygon points="685.14,472.05 688.71,474.64 687.35,478.83 682.94,478.83 681.58,474.64" fill="#cfcf3a" stroke="#cfcf3a" stroke-width="0.8" stroke-linejoin="round"/>
<text x="692.44" y="479.4" font-size="9.4" fill="#222" stroke="#222" stroke-width="0.12">5:30am</text>
<polygon points="114.51,482.30 116.86,486.06 121.16,487.14 118.31,490.54 118.62,494.96 114.51,493.30 110.39,494.96 110.70,490.54 107.85,487.14 112.16,486.06" fill="#7a4a1c"/><polygon points="114.51,485.55 118.07,488.14 116.71,492.33 112.30,492.33 110.94,488.14" fill="#dd6644" stroke="#dd6644" stroke-width="0.8" stroke-linejoin="round"/>
<text x="121.81" y="493.7" font-size="9.4" fill="#222" stroke="#222" stroke-width="0.12">6:37pm</text>
<polygon points="191.07,482.30 193.42,486.06 197.72,487.14 194.87,490.54 195.18,494.96 191.07,493.30 186.95,494.96 187.26,490.54 184.41,487.14 188.72,486.06" fill="#7a4a1c"/><polygon points="191.07,485.55 194.63,488.14 193.27,492.33 188.86,492.33 187.50,488.14" fill="#dd6644" stroke="#dd6644" stroke-width="0.8" stroke-linejoin="round"/>
<text x="198.37" y="493.7" font-size="9.4" fill="#222" stroke="#222" stroke-width="0.12">6:37pm</text>
<polygon points="267.57,482.30 269.93,486.06 274.23,487.14 271.38,490.54 271.69,494.96 267.57,493.30 263.46,494.96 263.77,490.54 260.92,487.14 265.22,486.06" fill="#7a4a1c"/><polygon points="267.57,485.55 271.14,488.14 269.78,492.33 265.37,492.33 264.01,488.14" fill="#dd6644" stroke="#dd6644" stroke-width="0.8" stroke-linejoin="round"/>
<text x="274.87" y="493.7" font-size="9.4" fill="#222" stroke="#222" stroke-width="0.12">6:36pm</text>
<polygon points="344.13,482.30 346.49,486.06 350.79,487.14 347.94,490.54 348.25,494.96 344.13,493.30 340.02,494.96 340.33,490.54 337.48,487.14 341.78,486.06" fill="#7a4a1c"/><polygon points="344.13,485.55 347.70,488.14 346.34,492.33 341.93,492.33 340.57,488.14" fill="#dd6644" stroke="#dd6644" stroke-width="0.8" stroke-linejoin="round"/>
<text x="351.43" y="493.7" font-size="9.4" fill="#222" stroke="#222" stroke-width="0.12">6:36pm</text>
<polygon points="420.64,482.30 422.99,486.06 427.30,487.14 424.45,490.54 424.76,494.96 420.64,493.30 416.53,494.96 416.84,490.54 413.98,487.14 418.29,486.06" fill="#7a4a1c"/><polygon points="420.64,485.55 424.21,488.14 422.85,492.33 418.44,492.33 417.07,488.14" fill="#dd6644" stroke="#dd6644" stroke-width="0.8" stroke-linejoin="round"/>
<text x="427.94" y="493.7" font-size="9.4" fill="#222" stroke="#222" stroke-width="0.12">6:35pm</text>
<polygon points="497.15,482.30 499.50,486.06 503.81,487.14 500.95,490.54 501.26,494.96 497.15,493.30 493.03,494.96 493.34,490.54 490.49,487.14 494.80,486.06" fill="#7a4a1c"/><polygon points="497.15,485.55 500.71,488.14 499.35,492.33 494.94,492.33 493.58,488.14" fill="#dd6644" stroke="#dd6644" stroke-width="0.8" stroke-linejoin="round"/>
<text x="504.45" y="493.7" font-size="9.4" fill="#222" stroke="#222" stroke-width="0.12">6:34pm</text>
<polygon points="573.71,482.30 576.06,486.06 580.37,487.14 577.51,490.54 577.82,494.96 573.71,493.30 569.59,494.96 569.90,490.54 567.05,487.14 571.36,486.06" fill="#7a4a1c"/><polygon points="573.71,485.55 577.27,488.14 575.91,492.33 571.50,492.33 570.14,488.14" fill="#dd6644" stroke="#dd6644" stroke-width="0.8" stroke-linejoin="round"/>
<text x="581.01" y="493.7" font-size="9.4" fill="#222" stroke="#222" stroke-width="0.12">6:34pm</text>
<polygon points="650.21,482.30 652.57,486.06 656.87,487.14 654.02,490.54 654.33,494.96 650.21,493.30 646.10,494.96 646.41,490.54 643.56,487.14 647.86,486.06" fill="#7a4a1c"/><polygon points="650.21,485.55 653.78,488.14 652.42,492.33 648.01,492.33 646.65,488.14" fill="#dd6644" stroke="#dd6644" stroke-width="0.8" stroke-linejoin="round"/>
<text x="657.51" y="493.7" font-size="9.4" fill="#222" stroke="#222" stroke-width="0.12">6:33pm</text>
<circle cx="106.21" cy="503" r="4.7" fill="#ffffc4" stroke="#8a8a8a" stroke-width="0.9"/>
<text x="113.51" y="507.2" font-size="9.4" fill="#222" stroke="#222" stroke-width="0.12">4:01pm</text>
<circle cx="185.91" cy="503" r="4.7" fill="#ffffc4" stroke="#8a8a8a" stroke-width="0.9"/>
<text x="193.21" y="507.2" font-size="9.4" fill="#222" stroke="#222" stroke-width="0.12">5:00pm</text>
<circle cx="265.39" cy="503" r="4.7" fill="#ffffc4" stroke="#8a8a8a" stroke-width="0.9"/>
<text x="272.69" y="507.2" font-size="9.4" fill="#222" stroke="#222" stroke-width="0.12">5:55pm</text>
<circle cx="344.72" cy="503" r="4.7" fill="#ffffc4" stroke="#8a8a8a" stroke-width="0.9"/>
<text x="352.02" y="507.2" font-size="9.4" fill="#222" stroke="#222" stroke-width="0.12">6:47pm</text>
<circle cx="423.78" cy="503" r="4.7" fill="#ffffc4" stroke="#8a8a8a" stroke-width="0.9"/>
<text x="431.08" y="507.2" font-size="9.4" fill="#222" stroke="#222" stroke-width="0.12">7:34pm</text>
<circle cx="502.62" cy="503" r="4.7" fill="#ffffc4" stroke="#8a8a8a" stroke-width="0.9"/>
<text x="509.92" y="507.2" font-size="9.4" fill="#222" stroke="#222" stroke-width="0.12">8:17pm</text>
<circle cx="581.36" cy="503" r="4.7" fill="#ffffc4" stroke="#8a8a8a" stroke-width="0.9"/>
<text x="588.66" y="507.2" font-size="9.4" fill="#222" stroke="#222" stroke-width="0.12">8:58pm</text>
<circle cx="660.00" cy="503" r="4.7" fill="#ffffc4" stroke="#8a8a8a" stroke-width="0.9"/>
<text x="667.30" y="507.2" font-size="9.4" fill="#222" stroke="#222" stroke-width="0.12">9:37pm</text>
<circle cx="140.45" cy="516.5" r="4.75" fill="#c2c2b2" stroke="#858585" stroke-width="0.9"/>
<text x="147.75" y="519.9" font-size="9.4" fill="#222" stroke="#222" stroke-width="0.12">2:45am</text>
<circle cx="220.31" cy="516.5" r="4.75" fill="#c2c2b2" stroke="#858585" stroke-width="0.9"/>
<text x="227.61" y="519.9" font-size="9.4" fill="#222" stroke="#222" stroke-width="0.12">3:47am</text>
<circle cx="300.38" cy="516.5" r="4.75" fill="#c2c2b2" stroke="#858585" stroke-width="0.9"/>
<text x="307.68" y="519.9" font-size="9.4" fill="#222" stroke="#222" stroke-width="0.12">4:53am</text>
<circle cx="380.55" cy="516.5" r="4.75" fill="#c2c2b2" stroke="#858585" stroke-width="0.9"/>
<text x="387.85" y="519.9" font-size="9.4" fill="#222" stroke="#222" stroke-width="0.12">6:01am</text>
<circle cx="460.73" cy="516.5" r="4.75" fill="#c2c2b2" stroke="#858585" stroke-width="0.9"/>
<text x="468.03" y="519.9" font-size="9.4" fill="#222" stroke="#222" stroke-width="0.12">7:09am</text>
<circle cx="540.80" cy="516.5" r="4.75" fill="#c2c2b2" stroke="#858585" stroke-width="0.9"/>
<text x="548.10" y="519.9" font-size="9.4" fill="#222" stroke="#222" stroke-width="0.12">8:15am</text>
<circle cx="620.81" cy="516.5" r="4.75" fill="#c2c2b2" stroke="#858585" stroke-width="0.9"/>
<text x="628.11" y="519.9" font-size="9.4" fill="#222" stroke="#222" stroke-width="0.12">9:20am</text>
<circle cx="700.78" cy="516.5" r="4.75" fill="#c2c2b2" stroke="#858585" stroke-width="0.9"/>
<text x="708.08" y="519.9" font-size="9.4" fill="#222" stroke="#222" stroke-width="0.12">10:24am</text>
<text x="296.3" y="533.6" font-size="9.4" fill="#222" stroke="#222" stroke-width="0.12">Full Moon</text>
<text x="339.6" y="534.6" font-size="9.4" fill="#222" stroke="#222" stroke-width="0.12">|</text>
<text x="344.7" y="534.6" font-size="9.4" fill="#222" stroke="#222" stroke-width="0.12">5:34pm</text>
</svg></body></html>
